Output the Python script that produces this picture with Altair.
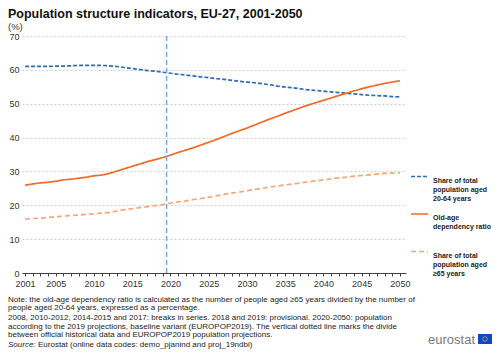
import json
import altair as alt
import pandas as pd

# ---------------- data ----------------
years = list(range(2001, 2051))

share_20_64 = [61.0, 61.0, 61.0, 61.0, 61.1, 61.1, 61.2, 61.3, 61.3, 61.3,
               61.3, 61.2, 61.0, 60.7, 60.4, 60.1, 59.8, 59.6, 59.3, 59.0,
               58.7, 58.5, 58.2, 57.9, 57.7, 57.4, 57.2, 56.9, 56.6, 56.4,
               56.2, 55.9, 55.6, 55.2, 54.9, 54.7, 54.4, 54.1, 53.9, 53.7,
               53.5, 53.3, 53.1, 52.9, 52.7, 52.5, 52.4, 52.3, 52.1, 52.0]

old_age_ratio = [25.9, 26.3, 26.6, 26.8, 27.1, 27.5, 27.7, 28.0, 28.3, 28.7,
                 28.9, 29.4, 30.1, 30.8, 31.5, 32.2, 32.9, 33.5, 34.1, 34.8,
                 35.6, 36.3, 37.0, 37.8, 38.6, 39.4, 40.3, 41.2, 42.0, 42.8,
                 43.7, 44.6, 45.5, 46.3, 47.2, 48.0, 48.8, 49.6, 50.3, 51.0,
                 51.7, 52.4, 53.1, 53.8, 54.4, 55.0, 55.5, 56.0, 56.4, 56.8]

share_65_plus = [15.9, 16.1, 16.2, 16.4, 16.6, 16.8, 17.0, 17.1, 17.3, 17.5,
                 17.7, 17.9, 18.3, 18.7, 19.0, 19.3, 19.6, 19.9, 20.2, 20.6,
                 21.0, 21.3, 21.7, 22.0, 22.4, 22.8, 23.2, 23.6, 23.9, 24.3,
                 24.7, 25.0, 25.4, 25.7, 26.0, 26.3, 26.6, 26.9, 27.2, 27.5,
                 27.8, 28.1, 28.3, 28.6, 28.8, 29.0, 29.2, 29.4, 29.5, 29.6]

series_names = ["Share of total population aged 20-64 years",
                "Old-age dependency ratio",
                "Share of total population aged ≥65 years"]
legend_lines = [["Share of total", "population aged", "20-64 years"],
                ["Old-age", "dependency ratio", " "],
                ["Share of total", "population aged", "≥65 years"]]
series_colors = ["#2b6cb6", "#f06a28", "#f8a57a"]
series_dashes = [[4, 2], [1, 0], [5, 3]]

divide_year = [2019.5]
y_range = [0, 70]
y_ticks = [0, 10, 20, 30, 40, 50, 60, 70]
x_domain = [2000.6, 2050.8]
x_label_years = [2001, 2005, 2010, 2015, 2020, 2025, 2030, 2035, 2040, 2045, 2050]

title_text = "Population structure indicators, EU-27, 2001-2050"
subtitle_text = "(%)"
note_para1 = ("Note: the old-age dependency ratio is calculated as the number of people aged ≥65 years divided by the number of\n"
              "people aged 20-64 years, expressed as a percentage.")
note_para2 = ("2008, 2010-2012, 2014-2015 and 2017: breaks in series. 2018 and 2019: provisional. 2020-2050: population\n"
              "according to the 2019 projections, baseline variant (EUROPOP2019). The vertical dotted line marks the divide\n"
              "between official historical data and EUROPOP2019 population projections.")
source_label = "Source:"
source_text = "Eurostat (online data codes: demo_pjanind and proj_19ndbi)"
logo_text = "eurostat"

# ---------------- frames ----------------
rows = []
for name, vals in zip(series_names, [share_20_64, old_age_ratio, share_65_plus]):
    for yr, v in zip(years, vals):
        rows.append({"year": yr, "value": v, "series": name})
df = pd.DataFrame(rows)

divide_df = pd.DataFrame({"year": divide_year, "value": [y_range[0]], "hi": [y_range[1]]})

# legend label expression (multi-line)
expr = "datum.value"
for name, lines in reversed(list(zip(series_names, legend_lines))):
    expr = f"datum.value == {json.dumps(name)} ? {json.dumps(lines)} : ({expr})"

label_test = " || ".join(f"datum.value == {y}" for y in x_label_years)

FONT = "Liberation Sans"
W, H = 384, 237

x_scale = alt.Scale(domain=x_domain, nice=False, zero=False)
y_scale = alt.Scale(domain=y_range, nice=False)
x_axis = alt.Axis(values=years, title=None, grid=False,
                  labelExpr=f"({label_test}) ? '' + datum.value : ''",
                  labelOverlap=False, labelFlush=False,
                  tickSize=3, tickColor="#404040", domainColor="#404040",
                  labelPadding=3, labelFontSize=9, labelColor="#333333", labelFont=FONT)
y_axis = alt.Axis(values=y_ticks, title=None, domain=False, ticks=False, labelOverlap=False,
                  gridColor="#cfcfcf", gridDash=[2, 2], gridWidth=1,
                  labelPadding=3, labelFontSize=9, labelColor="#333333", labelFont=FONT)

lines = alt.Chart(df).mark_line(strokeWidth=1.7).encode(
    x=alt.X("year:Q", scale=x_scale, axis=x_axis),
    y=alt.Y("value:Q", scale=y_scale, axis=y_axis),
    color=alt.Color("series:N",
                    scale=alt.Scale(domain=series_names, range=series_colors),
                    legend=alt.Legend(title=None, orient="none", legendX=388, legendY=131,
                                      labelExpr=expr, labelFont=FONT, labelFontSize=7,
                                      labelFontWeight="bold", labelColor="#222222",
                                      labelBaseline="top", labelLimit=200,
                                      symbolType="stroke", symbolSize=289, symbolStrokeWidth=1.7,
                                      rowPadding=2.5, labelOffset=4)),
    strokeDash=alt.StrokeDash("series:N",
                              scale=alt.Scale(domain=series_names, range=series_dashes),
                              legend=None),
    detail="series:N",
)

divide_rule = alt.Chart(divide_df).mark_rule(color="#72a9e6", strokeWidth=1.5, strokeDash=[5, 3]).encode(
    x=alt.X("year:Q", scale=x_scale, axis=x_axis),
    y=alt.Y("value:Q", scale=y_scale, axis=y_axis),
    y2="hi:Q")

txt_df = pd.DataFrame({"a": [0]})
base_txt = alt.Chart(txt_df)
note1 = base_txt.mark_text(align="left", baseline="top", lineBreak="\n", font=FONT, fontSize=8,
                           color="#222222", lineHeight=8.3).encode(
    x=alt.value(-14), y=alt.value(260), text=alt.value(note_para1))
note2 = base_txt.mark_text(align="left", baseline="top", lineBreak="\n", font=FONT, fontSize=8,
                           color="#222222", lineHeight=8.5).encode(
    x=alt.value(-14), y=alt.value(278), text=alt.value(note_para2))
src1 = base_txt.mark_text(align="left", baseline="top", font=FONT, fontSize=8, fontStyle="italic",
                          color="#222222").encode(
    x=alt.value(-14), y=alt.value(304.5), text=alt.value(source_label))
src2 = base_txt.mark_text(align="left", baseline="top", font=FONT, fontSize=8,
                          color="#222222").encode(
    x=alt.value(16), y=alt.value(304.5), text=alt.value(source_text))
logo = base_txt.mark_text(align="right", baseline="alphabetic", font=FONT, fontSize=13,
                          color="#7a7a7a").encode(
    x=alt.value(453), y=alt.value(308), text=alt.value(logo_text))
flag = base_txt.mark_rect(color="#0e47cb").encode(
    x=alt.value(456), x2=alt.value(470), y=alt.value(298), y2=alt.value(308))
stars = base_txt.mark_point(shape="circle", size=22, color="#ffd617", strokeWidth=0.8).encode(
    x=alt.value(463), y=alt.value(303))

chart = alt.layer(lines, divide_rule, note1, note2, src1, src2, logo, flag, stars).properties(
    width=W, height=H,
    padding={"left": 14, "top": 28, "right": 86, "bottom": 76},
    autosize=alt.AutoSizeParams(type="none"),
    title=alt.TitleParams(text=title_text, subtitle=subtitle_text, anchor="start", dx=-14,
                          font=FONT, fontSize=12.5, fontWeight="bold", color="#111111",
                          subtitleFont=FONT, subtitleFontSize=9.5, subtitleColor="#333333",
                          subtitlePadding=1, offset=1, frame="group"),
).configure_view(stroke=None)

chart.save("out.html", embed_options={"renderer": "svg", "actions": False})
